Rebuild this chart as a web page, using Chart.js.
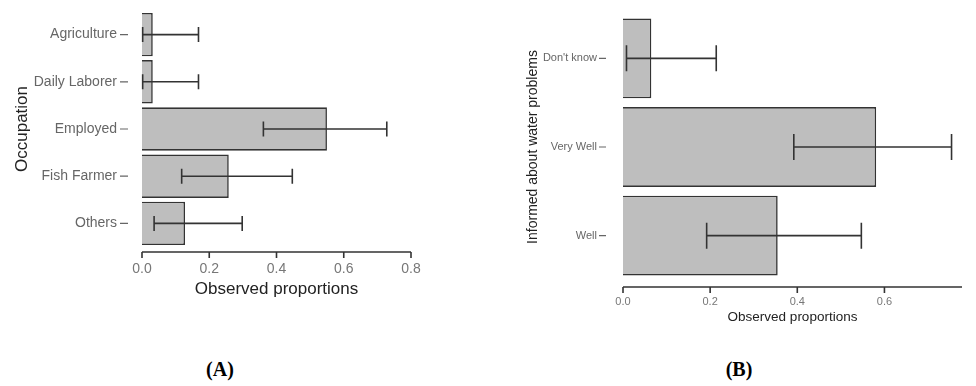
<!DOCTYPE html>
<html>
<head>
<meta charset="utf-8">
<script src="https://cdn.jsdelivr.net/npm/chart.js@4.4.1/dist/chart.umd.min.js"></script>
<style>
    body { margin: 0; background: #fff; width: 976px; height: 386px; position: relative; overflow: hidden; }
    canvas { position: absolute; top: 0; }
    #chartA { left: 0; }
    #chartB { left: 500px; }
    .panel-label {
        position: absolute; top: 358px; width: 60px; text-align: center;
        font-family: "Liberation Serif", "DejaVu Serif", serif; font-weight: bold; font-size: 20px; color: #000;
    }
</style>
</head>
<body>
<canvas id="chartA" width="440" height="320"></canvas>
<canvas id="chartB" width="476" height="340"></canvas>
<div class="panel-label" style="left: 190px;">(A)</div>
<div class="panel-label" style="left: 709px;">(B)</div>

<script>
// Panel A: occupation
const occupations = ['Agriculture', 'Daily Laborer', 'Employed', 'Fish Farmer', 'Others'];
const occupationProp = [0.032, 0.032, 0.55, 0.258, 0.128];
const occupationLow = [0.002, 0.002, 0.361, 0.118, 0.036];
const occupationHigh = [0.168, 0.168, 0.728, 0.447, 0.298];
const ticksA = [0, 0.2, 0.4, 0.6, 0.8];

// Panel B: informed about water problems
const informed = ["Don't know", 'Very Well', 'Well'];
const informedProp = [0.065, 0.581, 0.355];
const informedLow = [0.008, 0.392, 0.192];
const informedHigh = [0.214, 0.754, 0.547];
const ticksB = [0, 0.2, 0.4, 0.6];

const FONT = '"Liberation Sans", Arial, sans-serif';

/**
 * Error bars drawn from the low/high arrays
 */
const errorBarPlugin = {
    id: 'errorBars',
    afterDatasetsDraw(chart, args, opts) {
        const ctx = chart.ctx;
        const x = chart.scales.x;
        const meta = chart.getDatasetMeta(0);
        ctx.save();
        ctx.strokeStyle = '#333';
        ctx.lineWidth = 1.6;
        meta.data.forEach((bar, i) => {
            const y = bar.y;
            const x0 = x.getPixelForValue(opts.low[i]);
            const x1 = x.getPixelForValue(opts.high[i]);
            const h = opts.cap / 2;
            ctx.beginPath();
            ctx.moveTo(x0, y); ctx.lineTo(x1, y);
            ctx.moveTo(x0, y - h); ctx.lineTo(x0, y + h);
            ctx.moveTo(x1, y - h); ctx.lineTo(x1, y + h);
            ctx.stroke();
        });
        ctx.restore();
    }
};

/**
 * R style axes: detached x axis line and short y tick marks
 */
const rAxesPlugin = {
    id: 'rAxes',
    afterDraw(chart, args, opts) {
        const ctx = chart.ctx;
        const area = chart.chartArea;
        const x = chart.scales.x;
        const y = chart.scales.y;
        const axisY = area.bottom + opts.gap;
        ctx.save();
        ctx.strokeStyle = '#333';
        ctx.lineWidth = 1.6;
        ctx.beginPath();
        ctx.moveTo(x.getPixelForValue(0), axisY);
        ctx.lineTo(area.right, axisY);
        x.ticks.forEach(t => {
            const px = x.getPixelForValue(t.value);
            ctx.moveTo(px, axisY);
            ctx.lineTo(px, axisY + 6);
        });
        ctx.stroke();
        ctx.strokeStyle = '#666';
        ctx.lineWidth = 1.2;
        ctx.beginPath();
        y.ticks.forEach((t, i) => {
            const py = y.getPixelForTick(i);
            ctx.moveTo(area.left - opts.tickFrom, py);
            ctx.lineTo(area.left - opts.tickTo, py);
        });
        ctx.stroke();
        ctx.restore();
    }
};

function makeChart(id, cfg) {
    return new Chart(document.getElementById(id), {
        type: 'bar',
        data: {
            labels: cfg.labels,
            datasets: [{
                data: cfg.values,
                backgroundColor: '#bebebe',
                borderColor: '#333',
                borderWidth: 1.6,
                barPercentage: cfg.barPct,
                categoryPercentage: 1
            }]
        },
        options: {
            indexAxis: 'y',
            responsive: false,
            animation: false,
            layout: { padding: cfg.padding },
            plugins: {
                legend: { display: false },
                tooltip: { enabled: false },
                errorBars: { low: cfg.low, high: cfg.high, cap: cfg.cap },
                rAxes: cfg.axes
            },
            scales: {
                x: {
                    min: 0,
                    max: cfg.max,
                    afterBuildTicks: (scale) => { scale.ticks = cfg.ticks.map(v => ({ value: v })); },
                    afterFit: (scale) => {
                        scale.height = cfg.xHeight;
                        scale.paddingLeft = 0;
                        scale.paddingRight = 0;
                    },
                    grid: { display: false, drawTicks: false },
                    border: { display: false },
                    ticks: {
                        color: '#777',
                        font: { family: FONT, size: cfg.tickSize },
                        padding: cfg.xTickPad,
                        maxRotation: 0,
                        callback: (v) => Number(v).toFixed(1)
                    },
                    title: {
                        display: true,
                        text: 'Observed proportions',
                        color: '#222',
                        font: { family: FONT, size: cfg.xTitleSize },
                        padding: { top: 0, bottom: cfg.xTitlePad }
                    }
                },
                y: {
                    afterFit: (scale) => {
                        scale.width = cfg.yWidth;
                        // keep tick padding from pushing the plot area down
                        scale.paddingTop = 0;
                        scale.paddingBottom = 0;
                    },
                    grid: { display: false, drawTicks: false },
                    border: { display: false },
                    ticks: {
                        color: '#666',
                        font: { family: FONT, size: cfg.labelSize },
                        padding: cfg.yTickPad,
                        autoSkip: false
                    },
                    title: {
                        display: true,
                        text: cfg.yTitle,
                        color: '#222',
                        font: { family: FONT, size: cfg.yTitleSize },
                        padding: { top: cfg.yTitlePad, bottom: 0 }
                    }
                }
            }
        },
        plugins: [errorBarPlugin, rAxesPlugin]
    });
}

makeChart('chartA', {
    labels: occupations, values: occupationProp, low: occupationLow, high: occupationHigh,
    ticks: ticksA, max: 0.8, barPct: 0.92, cap: 15,
    padding: { left: 0, top: 11, right: 29, bottom: 0 },
    xHeight: 73, yWidth: 142,
    tickSize: 14, labelSize: 14, xTitleSize: 17, yTitleSize: 17,
    xTickPad: 14, xTitlePad: 20, yTickPad: 25, yTitlePad: 12,
    yTitle: 'Occupation',
    axes: { gap: 5, tickFrom: 22, tickTo: 14 }
});

makeChart('chartB', {
    labels: informed, values: informedProp, low: informedLow, high: informedHigh,
    ticks: ticksB, max: 0.778, barPct: 0.9, cap: 26,
    padding: { left: 0, top: 14, right: 14, bottom: 0 },
    xHeight: 60, yWidth: 123,
    tickSize: 11, labelSize: 11, xTitleSize: 13.5, yTitleSize: 14,
    xTickPad: 15, xTitlePad: 15, yTickPad: 26, yTitlePad: 25,
    yTitle: 'Informed about water problems',
    axes: { gap: 7, tickFrom: 24, tickTo: 17 }
});
</script>
</body>
</html>
